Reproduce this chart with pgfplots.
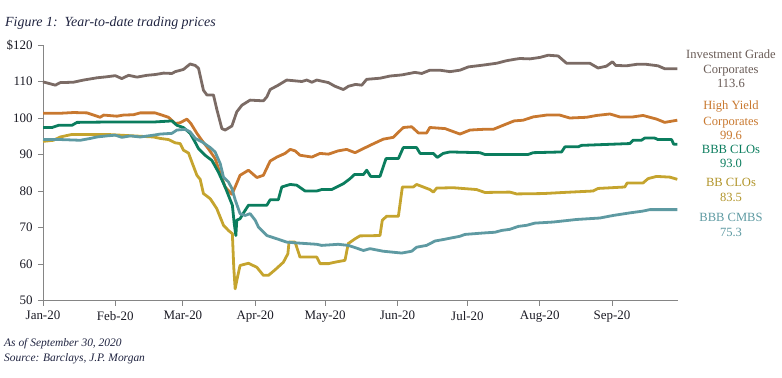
\documentclass[border=0pt]{standalone}
\usepackage{pgfplots}
\pgfplotsset{compat=1.18}
\usepackage{fontspec}
\setmainfont{Liberation Serif}
\definecolor{igc}{HTML}{7B6B65}
\definecolor{hyc}{HTML}{C8782F}
\definecolor{bbbc}{HTML}{0B7D5E}
\definecolor{bbc}{HTML}{C5A42E}
\definecolor{cmbsc}{HTML}{5E9AA2}
\definecolor{axgray}{HTML}{858585}
\definecolor{titlec}{HTML}{1F2340}
\definecolor{tickc}{HTML}{1A1A24}
\begin{document}
\begin{tikzpicture}
\useasboundingbox (0bp,0bp) rectangle (782bp,-378bp);
\node[anchor=base west, inner sep=0, font=\fontsize{14}{16}\selectfont\itshape, text=titlec] at (5bp,-26bp) {Figure 1:\ \ Year-to-date trading prices};
\begin{axis}[
  at={(43bp,-300.5bp)}, anchor=south west,
  width=635bp, height=255.5bp, scale only axis,
  xmin=0, xmax=272.3, ymin=50, ymax=120,
  axis lines=left,
  axis line style={-, draw=axgray, line width=0.9bp},
  xtick={0,31,60,91,121,152,182,213,244},
  xticklabels={Jan-20,Feb-20,Mar-20,Apr-20,May-20,Jun-20,Jul-20,Aug-20,Sep-20},
  ytick={50,60,70,80,90,100,110,120},
  yticklabels={50,60,70,80,90,100,110,\$120},
  tick style={draw=axgray, line width=0.9bp},
  tick align=outside, major tick length=5bp,
  ticklabel style={font=\fontsize{13}{15}\selectfont, text=tickc},
  xticklabel style={yshift=-2bp},
  yticklabel style={xshift=-2bp},
  /pgf/number format/assume math mode=true,
  clip=false,
  every axis plot/.append style={line width=2.8bp, line join=round, no markers},
]
% Investment Grade Corporates
\addplot[igc] coordinates {
(0,109.9)(5.3,109.0)(7.4,109.7)(13,109.8)(17.4,110.4)(23,111.0)(27.4,111.3)(31,111.6)(33.8,110.8)(36.7,111.7)(40.3,111.2)(44.6,111.7)(48,111.9)(51.7,112.3)(55.3,112.2)(56.7,112.7)(60.2,113.3)(63.1,114.8)(65.3,114.4)(66.7,113.6)(68.8,107.6)(70.3,106.3)(73.1,106.3)(74.6,102.2)(76.7,97.1)(78.1,96.7)(81,97.8)(83.1,101.7)(85.3,103.5)(88.8,104.9)(94.5,104.7)(96,105.8)(97.4,107.8)(100.9,109.0)(104.5,110.4)(111,110.0)(113.1,110.4)(115.3,109.8)(117.4,110.4)(122.4,109.7)(125.2,108.7)(128.8,107.8)(131,108.7)(134,109.2)(136.7,109.0)(138.8,110.6)(144.5,110.9)(148.8,111.5)(153.8,111.8)(159.5,112.5)(162.4,112.2)(165.9,113.1)(170.2,113.1)(174.5,112.7)(178.8,113.1)(182.4,114.0)(188.8,114.5)(194.5,115.0)(198.8,115.7)(202.4,116.1)(204.5,116.3)(208.8,116.2)(213.1,116.6)(216.6,117.2)(220.9,117.0)(224.5,115.0)(230.2,115.0)(234.5,115.0)(238,113.7)(241.6,114.2)(244.2,115.4)(245.6,114.4)(250.2,114.3)(254.5,114.7)(258.8,114.7)(263.7,114.3)(266.6,113.5)(272,113.5)
};
% High Yield Corporates
\addplot[hyc] coordinates {
(0,101.3)(7.4,101.3)(13.1,101.5)(18.9,101.4)(21.7,100.8)(24.5,100.2)(26,100.8)(31.7,100.5)(34.5,100.8)(38.8,100.9)(41.7,101.4)(48.1,101.4)(51,100.8)(53.8,100.2)(56.7,98.5)(58.8,98.7)(61.7,99.7)(63.4,98.5)(66,95.8)(68.1,93.9)(70.9,91.6)(73.8,88.9)(76,84.8)(78.1,81.1)(81,79.1)(82.4,81.1)(84.5,84.3)(88.1,85.7)(91.7,83.7)(94.5,84.3)(97.4,88.2)(100.3,89.3)(103.8,90.3)(106,91.4)(108.1,91.0)(110.2,89.8)(115.3,89.3)(118.8,90.3)(122.4,90.1)(126.6,91.0)(130.2,91.4)(133.8,90.5)(140.2,92.5)(145.9,94.2)(150.2,94.7)(154.5,97.4)(158.1,97.6)(161,95.9)(164.5,95.9)(165.9,97.4)(172.4,97.1)(178.8,95.6)(183.1,96.7)(188.8,96.9)(193.1,96.9)(197.3,98.0)(202,99.2)(205.9,99.4)(210.2,100.3)(215.9,100.8)(221.6,100.8)(225.9,100.0)(233.1,100.2)(237.4,100.7)(243.1,101.1)(247.3,100.3)(253,100.3)(257.3,100.7)(263.1,99.7)(266.6,98.8)(272,99.4)
};
% BBB CLOs
\addplot[bbbc] coordinates {
(0,97.4)(3.9,97.4)(6.7,98.0)(12.4,98.0)(14.6,98.8)(27.4,98.9)(47.4,98.9)(55.3,99.2)(57.4,98.0)(60.2,97.4)(63.1,95.8)(65.3,93.3)(66.7,91.6)(69.5,89.8)(72.4,88.4)(75.2,85.2)(78.1,81.1)(81.2,76.1)(82,71.1)(82.7,67.8)(83.1,72.0)(84.5,72.4)(86,74.0)(88.1,76.1)(96,76.1)(97.4,77.6)(100.9,77.6)(102.4,81.1)(106,81.8)(108.8,81.6)(112.4,80.0)(117.4,80.0)(119.5,80.4)(123.8,80.4)(126,81.1)(128.8,82.0)(131.7,83.4)(133.5,84.5)(137.4,84.5)(138.8,85.7)(140.5,84.0)(144.5,84.0)(147.1,88.9)(152.4,88.9)(154.5,91.9)(160.2,91.9)(161.7,90.3)(167.4,90.3)(169.1,89.2)(171.6,90.3)(174.5,90.7)(187.4,90.5)(189.5,90.0)(208,90.0)(210.2,90.5)(222.4,90.7)(223.8,92.1)(229.5,92.1)(230.9,92.5)(251.6,93.0)(253,93.9)(256.6,93.9)(258,94.5)(262.3,94.5)(263.7,94.1)(269.5,94.1)(270.5,92.8)(272,92.8)
};
% BB CLOs
\addplot[bbc] coordinates {
(0,93.6)(4.5,93.9)(7.4,94.8)(12.4,95.5)(27.4,95.5)(47.4,94.8)(50.3,94.4)(53.8,94.1)(56.7,93.2)(58.8,93.0)(60.2,91.2)(62.4,90.4)(63.8,88.0)(66,84.3)(67.4,83.2)(68.8,79.3)(71.7,77.9)(74.5,75.2)(77.4,70.6)(79.5,69.2)(81.2,68.3)(81.8,59.1)(82.4,53.2)(83.1,55.5)(84.5,59.6)(88.1,60.2)(91.7,59.1)(94.5,56.9)(96.7,56.9)(99.5,58.4)(103.1,60.5)(105,62.8)(105.5,66.0)(108.1,66.0)(110.2,61.9)(117.4,61.9)(118.8,60.1)(122.4,60.1)(125.2,60.5)(129.5,61.0)(130.9,65.6)(133.8,66.9)(135.9,67.7)(144.5,67.8)(145.5,72.0)(147.4,73.1)(152.4,73.1)(154.1,81.1)(158.8,81.1)(160.2,81.8)(165.9,80.4)(167.4,79.7)(168.8,80.8)(175.9,80.9)(185.9,80.4)(189.5,79.6)(200.2,79.7)(203.1,79.2)(214.5,79.3)(223.1,79.6)(235.9,80.0)(238,80.7)(249.5,81.1)(250.5,82.2)(257.3,82.2)(259.5,83.4)(263.1,84.0)(268.8,83.8)(272,83.2)
};
% BBB CMBS
\addplot[cmbsc] coordinates {
(0,94.1)(7.4,94.1)(16,93.9)(20.3,94.4)(23.1,94.8)(27.4,95.1)(31,95.3)(33.8,94.7)(37.4,95.1)(41.7,94.8)(47.4,95.3)(50.3,95.6)(55.3,95.8)(57.4,96.7)(61,96.9)(63.1,96.2)(65.3,94.4)(68.1,93.5)(71.7,91.9)(73.8,90.7)(76,87.5)(77.4,83.8)(79.5,82.5)(81,80.7)(82.4,77.6)(84.5,73.8)(86.7,73.3)(88.8,73.8)(91,72.0)(92.4,70.1)(96,67.8)(100.3,66.9)(104.5,66.0)(108.1,65.8)(117.4,65.4)(119.5,65.1)(126.6,65.4)(130.9,65.1)(133.8,64.5)(137.4,63.7)(140.2,64.2)(145.9,63.5)(153.8,63.0)(158.1,63.5)(160.2,64.6)(164.5,65.1)(168.1,66.3)(171.6,66.7)(178.8,67.6)(180.9,68.1)(188.8,68.5)(193.8,68.7)(196.7,69.2)(200.2,69.5)(203.8,70.3)(207.4,70.6)(210.9,71.2)(218.8,71.5)(228.8,72.2)(238.8,72.6)(244.5,73.3)(251.6,74.0)(257.3,74.5)(260.2,74.9)(272,74.9)
};
\end{axis}
% right-hand labels
\begin{scope}[every node/.style={anchor=base, inner sep=0, font=\fontsize{12.6}{14}\selectfont}]
\node[text=igc!85!black] at (731bp,-58.3bp) {Investment Grade};
\node[text=igc!85!black] at (731bp,-73.3bp) {Corporates};
\node[text=igc!85!black] at (731bp,-87.6bp) {113.6};
\node[text=hyc] at (731bp,-109bp) {High Yield};
\node[text=hyc] at (731bp,-125bp) {Corporates};
\node[text=hyc] at (731bp,-139bp) {99.6};
\node[text=bbbc] at (731bp,-153.3bp) {BBB CLOs};
\node[text=bbbc] at (731bp,-167.6bp) {93.0};
\node[text=bbc!90!black] at (731bp,-186.6bp) {BB CLOs};
\node[text=bbc!90!black] at (731bp,-201bp) {83.5};
\node[text=cmbsc] at (731bp,-221bp) {BBB CMBS};
\node[text=cmbsc] at (731bp,-236bp) {75.3};
\end{scope}
\node[anchor=base west, inner sep=0, font=\fontsize{11.5}{13}\selectfont\itshape, text=titlec] at (4bp,-346.8bp) {As of September 30, 2020};
\node[anchor=base west, inner sep=0, font=\fontsize{11.5}{13}\selectfont\itshape, text=titlec] at (4bp,-361.5bp) {Source: Barclays, J.P. Morgan};
\end{tikzpicture}
\end{document}
